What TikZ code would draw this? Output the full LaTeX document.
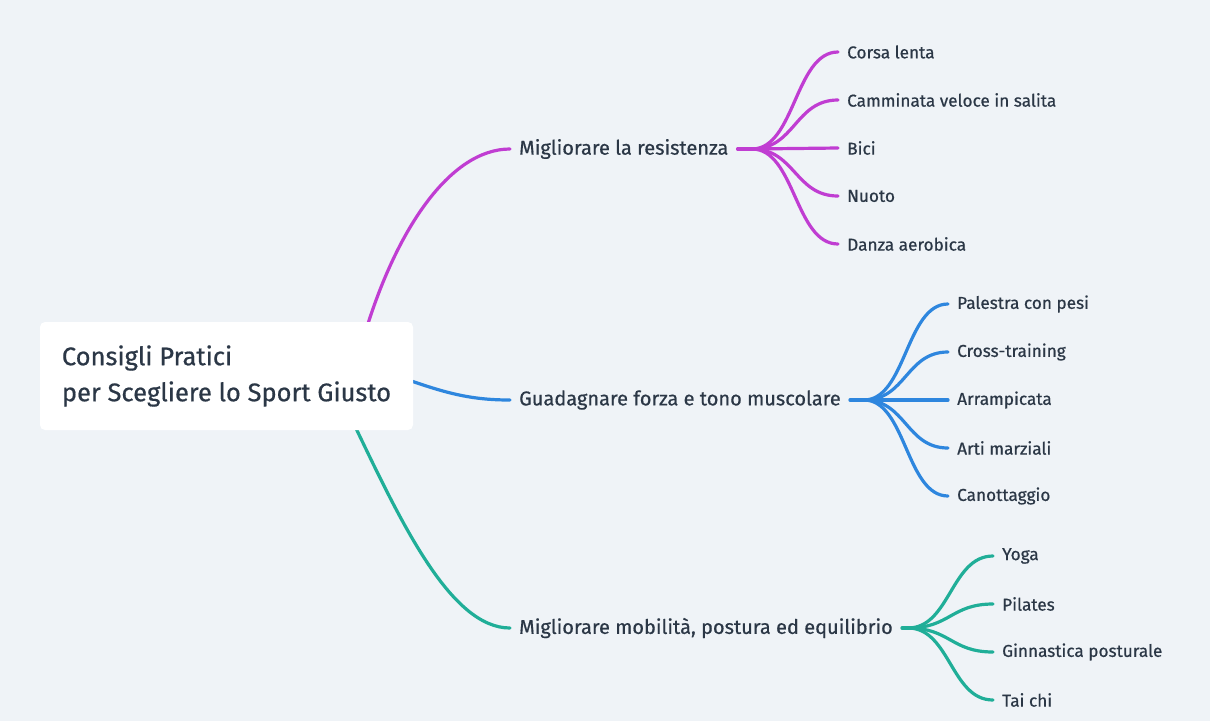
\documentclass[tikz,border=0pt]{standalone}
\usepackage{fontspec}
\setmainfont{Fira Sans}[UprightFeatures={FakeBold=0.6}]
\definecolor{bg}{HTML}{EFF3F7}
\definecolor{ink}{HTML}{2B3746}
\definecolor{cpurple}{HTML}{C03DD2}
\definecolor{cblue}{HTML}{2E86DE}
\definecolor{cteal}{HTML}{20AE98}
\tikzset{
  rootbox/.style={fill=white, rounded corners=5pt, minimum width=373pt, minimum height=108pt, inner sep=0pt, align=left, font=\fontsize{25.5}{36}\selectfont, text=ink},
  branch/.style={anchor=west, inner xsep=9pt, inner ysep=2pt, font=\fontsize{20}{24}\selectfont, text=ink},
  leaf/.style={anchor=west, inner xsep=9pt, inner ysep=2pt, font=\fontsize{17.2}{20}\selectfont, text=ink},
  link/.style={line width=3.2pt, line cap=round},
}
\begin{document}
\begin{tikzpicture}[x=1pt,y=-1pt]
\useasboundingbox[fill=bg] (0,0) rectangle (1210,721);
% branch and leaf nodes
\node[branch] (b1) at (510,149) {Migliorare la resistenza};
\node[branch] (b2) at (510,400) {Guadagnare forza e tono muscolare};
\node[branch] (b3) at (510,628) {Migliorare mobilità, postura ed equilibrio};
\node[leaf] (l11) at (838,52) {Corsa lenta};
\node[leaf] (l12) at (838,100) {Camminata veloce in salita};
\node[leaf] (l13) at (838,148) {Bici};
\node[leaf] (l14) at (838,196) {Nuoto};
\node[leaf] (l15) at (838,244) {Danza aerobica};
\node[leaf] (l21) at (948,304) {Palestra con pesi};
\node[leaf] (l22) at (948,352) {Cross-training};
\node[leaf] (l23) at (948,400) {Arrampicata};
\node[leaf] (l24) at (948,448) {Arti marziali};
\node[leaf] (l25) at (948,496) {Canottaggio};
\node[leaf] (l31) at (993,556) {Yoga};
\node[leaf] (l32) at (993,604) {Pilates};
\node[leaf] (l33) at (993,652) {Ginnastica posturale};
\node[leaf] (l34) at (993,700) {Tai chi};
% root connectors (start points hidden under the root box)
\coordinate (r1) at (363,340);
\coordinate (r2) at (400,377);
\coordinate (r3) at (352,420);
\draw[link, cpurple] (r1) .. controls (395,230) and (450,149) .. (b1.west);
\draw[link, cblue] (r2) .. controls (445,393) and (470,400) .. (b2.west);
\draw[link, cteal] (r3) .. controls (400,520) and (450,628) .. (b3.west);
% leaf fans
\coordinate (f1) at (752,149);
\coordinate (f2) at (864,400);
\coordinate (f3) at (908,628);
\draw[link, cpurple] (b1.east) -- (f1);
\foreach \l in {l11,l12,l13,l14,l15}
  \draw[link, cpurple] (f1) .. controls ([xshift=43pt]f1) and ([xshift=-43pt]\l.west) .. (\l.west);
\draw[link, cblue] (b2.east) -- (f2);
\foreach \l in {l21,l22,l23,l24,l25}
  \draw[link, cblue] (f2) .. controls ([xshift=42pt]f2) and ([xshift=-42pt]\l.west) .. (\l.west);
\draw[link, cteal] (b3.east) -- (f3);
\foreach \l in {l31,l32,l33,l34}
  \draw[link, cteal] (f3) .. controls ([xshift=42pt]f3) and ([xshift=-42pt]\l.west) .. (\l.west);
% root
\node[rootbox] (root) at (226.5,376) {Consigli Pratici\\per Scegliere lo Sport Giusto};
\end{tikzpicture}
\end{document}
